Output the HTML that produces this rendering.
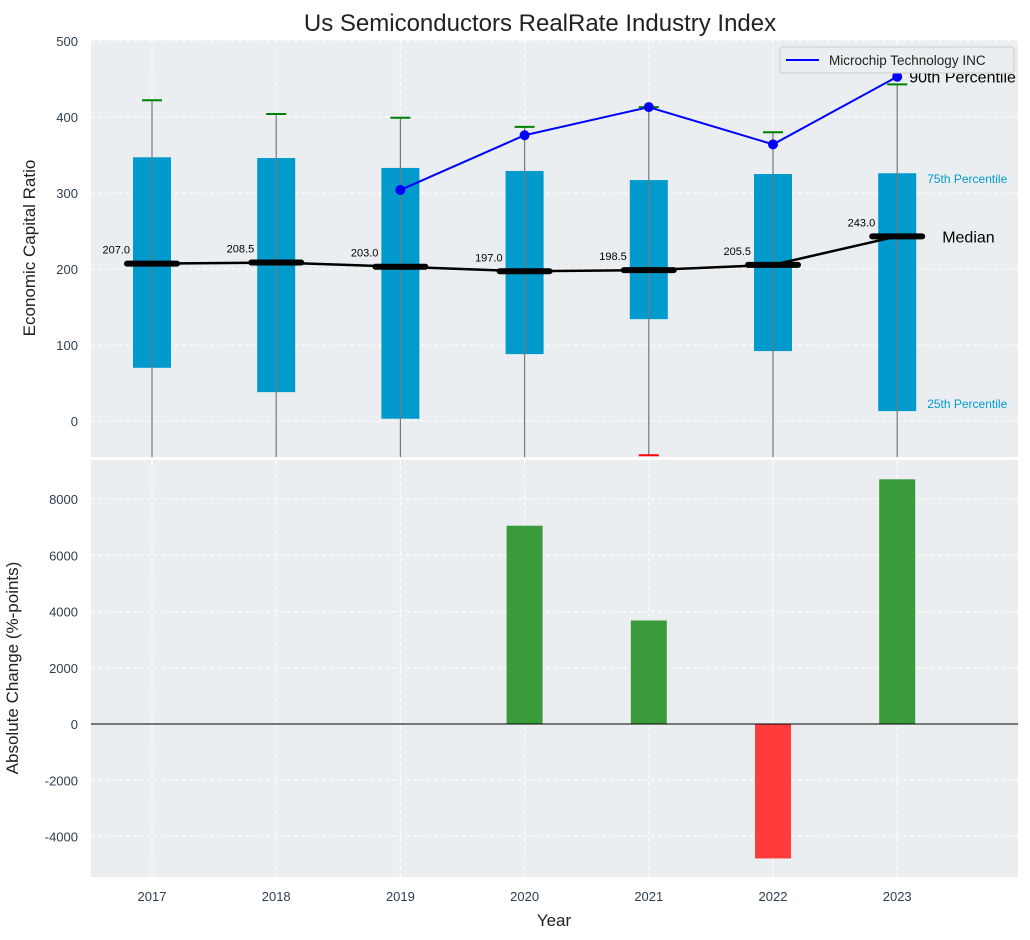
<!DOCTYPE html>
<html><head><meta charset="utf-8">
<style>
body{margin:0;background:#fff;}
svg{display:block;font-family:"Liberation Sans","DejaVu Sans",sans-serif;}
</style></head>
<body>
<svg id="chart" width="1030" height="940" xmlns="http://www.w3.org/2000/svg">
<text x="540" y="31" font-size="24" text-anchor="middle" fill="#222">Us Semiconductors RealRate Industry Index</text>
<rect x="91" y="40" width="927" height="417" fill="#eaeef0"/>
<rect x="91" y="460" width="927" height="417" fill="#eaeef0"/>
<g id="grid"></g>
<g id="marks"></g>
<text x="35" y="248" font-size="17" text-anchor="middle" fill="#222" transform="rotate(-90 35 248)">Economic Capital Ratio</text>
<text x="18" y="668" font-size="17" text-anchor="middle" fill="#222" transform="rotate(-90 18 668)">Absolute Change (%-points)</text>
<text x="554" y="926" font-size="17" text-anchor="middle" fill="#222">Year</text>
<g>
<rect x="780" y="47" width="234" height="26" rx="3" fill="#eaeef0" stroke="#ccc"/>
<line x1="786" y1="60" x2="819" y2="60" stroke="blue" stroke-width="2"/>
<text x="829" y="65" font-size="13.5" fill="#222">Microchip Technology INC</text>
</g>
</svg>
<script>
const years=[2017,2018,2019,2020,2021,2022,2023];
const q1=[70,38,3,88,134,92,13];
const q3=[347,346,333,329,317,325,326];
const medians=[207.0,208.5,203.0,197.0,198.5,205.5,243.0];
const p90=[422,404,399,387,413,380,443];
const p10=[-80,-80,-80,-80,-45,-80,-80];
const companyYears=[2019,2020,2021,2022,2023];
const companyVals=[304,376,413,364,453];
const changes=[0,0,0,7050,3680,-4780,8700];
const topTicks=[0,100,200,300,400,500];
const botTicks=[-4000,-2000,0,2000,4000,6000,8000];

const NS="http://www.w3.org/2000/svg";
const xs=y=>152+(y-2017)*124.2;
const yt=v=>421-0.76*v;
const yb=v=>724-0.028125*v;
const g=document.getElementById('grid'), m=document.getElementById('marks');
function el(p,t,a){const e=document.createElementNS(NS,t);for(const k in a)e.setAttribute(k,a[k]);p.appendChild(e);return e;}
const clip=v=>Math.max(40,Math.min(457,v));

topTicks.forEach(t=>{
 const l=el(g,'line',{x1:91,x2:1018,y1:yt(t),y2:yt(t),stroke:'#fff','stroke-dasharray':'4,3'});
 
 
 const tx=el(g,'text',{x:78,y:yt(t)+5,'font-size':13,'text-anchor':'end',fill:'#2c3e50'});tx.textContent=t;
 
 
});
botTicks.forEach(t=>{
 const l=el(g,'line',{x1:91,x2:1018,y1:yb(t),y2:yb(t),stroke:'#fff','stroke-dasharray':'4,3'});
 
 
 const tx=el(g,'text',{x:78,y:yb(t)+5,'font-size':13,'text-anchor':'end',fill:'#2c3e50'});tx.textContent=t;
 
 
});
years.forEach(y=>{
 [[40,457],[460,877]].forEach(r=>{
  const l=el(g,'line',{x1:xs(y),x2:xs(y),y1:r[0],y2:r[1],stroke:'#fff','stroke-dasharray':'4,3'});
  
  
 });
 const tx=el(g,'text',{x:xs(y),y:901,'font-size':13,'text-anchor':'middle',fill:'#2c3e50'});tx.textContent=y;
 
 
});

years.forEach((y,i)=>{
 const x=xs(y);
 const b=el(m,'rect',{x:x-19,y:yt(q3[i]),width:38,height:yt(q1[i])-yt(q3[i]),fill:'#009acd'});
 
 
 const w=el(m,'line',{x1:x,x2:x,y1:clip(yt(p90[i])),y2:clip(yt(p10[i])),stroke:'#777','stroke-width':1.2});
 
 
 const c=el(m,'line',{x1:x-10,x2:x+10,y1:yt(p90[i]),y2:yt(p90[i]),stroke:'green','stroke-width':2});
 
 
 if(yt(p10[i])<=457){
  const c2=el(m,'line',{x1:x-10,x2:x+10,y1:yt(p10[i]),y2:yt(p10[i]),stroke:'red','stroke-width':2});
  
  
 }
});
const mp=el(m,'polyline',{points:years.map((y,i)=>xs(y)+','+yt(medians[i])).join(' '),fill:'none',stroke:'#000','stroke-width':2.5});


years.forEach((y,i)=>{
 const x=xs(y);
 const s=el(m,'line',{x1:x-25,x2:x+25,y1:yt(medians[i]),y2:yt(medians[i]),stroke:'#000','stroke-width':6,'stroke-linecap':'round'});
 
 
 const t=el(m,'text',{x:x-22,y:yt(medians[i])-10,'font-size':11,'text-anchor':'end',fill:'#000'});t.textContent=medians[i].toFixed(1);
 
 
});
const cl=el(m,'polyline',{points:companyYears.map((y,i)=>xs(y)+','+yt(companyVals[i])).join(' '),fill:'none',stroke:'blue','stroke-width':2});


companyYears.forEach((y,i)=>{
 const p=el(m,'circle',{cx:xs(y),cy:yt(companyVals[i]),r:5,fill:'blue'});
 
 
});
const last=years.length-1, lx=xs(years[last]);
[[q3[last],'75th Percentile','#009acd',10,'label-75th'],[q1[last],'25th Percentile','#009acd',-3,'label-25th']].forEach(a=>{
 const t=el(m,'text',{x:lx+30,y:yt(a[0])+a[3],'font-size':12,fill:a[2]});t.textContent=a[1];
 
 
});
const tm=el(m,'text',{x:lx+45,y:yt(medians[last])+6,'font-size':16,fill:'#000'});tm.textContent='Median';


const t9=el(m,'text',{x:lx+12,y:yt(p90[last])-2,'font-size':16,fill:'#000'});t9.textContent='90th Percentile';



years.forEach((y,i)=>{
 if(changes[i]===0)return;
 const v=changes[i];
 const r=el(m,'rect',{x:xs(y)-18,y:Math.min(yb(v),yb(0)),width:36,height:Math.abs(yb(v)-yb(0)),fill:v>0?'#3a9b3a':'#ff3b3b'});
 
 
});
const z=el(m,'line',{x1:91,x2:1018,y1:yb(0),y2:yb(0),stroke:'#000','stroke-width':1});


</script>
</body></html>
